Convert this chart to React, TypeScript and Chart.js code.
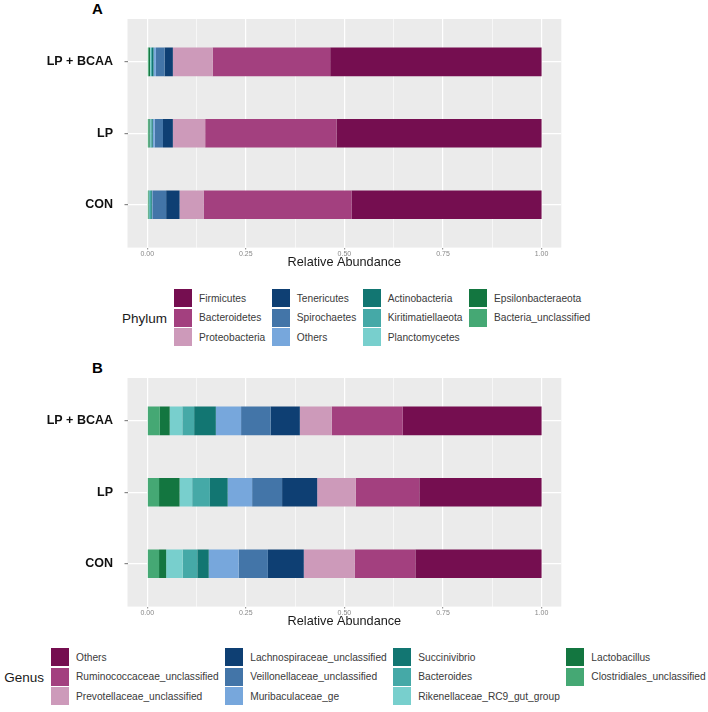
import React, { useEffect, useRef } from 'react';
import { Chart, registerables } from 'chart.js';
Chart.register(...registerables);

// ---------- data ----------
const groups = ['CON', 'LP', 'LP + BCAA'];
const xTickValues = [0, 0.125, 0.25, 0.375, 0.5, 0.625, 0.75, 0.875, 1];
const axisTitle = 'Relative Abundance';

// Phylum relative abundance, values for [CON, LP, LP + BCAA]
const firmicutes = [0.482, 0.520, 0.536];
const bacteroidetes = [0.375, 0.333, 0.298];
const proteobacteria = [0.061, 0.082, 0.101];
const tenericutes = [0.034, 0.025, 0.021];
const spirochaetes = [0.035, 0.021, 0.022];
const phylumOthers = [0.001, 0.005, 0.006];
const actinobacteria = [0.002, 0.003, 0.004];
const kiritimatiellaeota = [0.005, 0.003, 0.003];
const planctomycetes = [0.001, 0.002, 0.002];
const epsilonbacteraeota = [0.001, 0.002, 0.003];
const bacteriaUnclassified = [0.003, 0.004, 0.004];

// Genus relative abundance, values for [CON, LP, LP + BCAA]
const genusOthers = [0.320, 0.310, 0.352];
const ruminococcaceae = [0.154, 0.161, 0.180];
const prevotellaceae = [0.129, 0.098, 0.081];
const lachnospiraceae = [0.091, 0.089, 0.074];
const veillonellaceae = [0.074, 0.076, 0.075];
const muribaculaceae = [0.076, 0.062, 0.064];
const succinivibrio = [0.029, 0.045, 0.055];
const bacteroides = [0.037, 0.045, 0.030];
const rikenellaceae = [0.042, 0.032, 0.032];
const lactobacillus = [0.018, 0.052, 0.025];
const clostridiales = [0.030, 0.030, 0.032];

// palette in legend order
const palette = ['#750E50', '#A3407F', '#CD9ABA', '#0E3F73', '#4375A8', '#77A7DC', '#127672', '#45A9A7', '#78CFCD', '#137640', '#45A874'];

// legend order (column-major, 3 rows)
const phylumSeries = [
  { name: 'Firmicutes', values: firmicutes },
  { name: 'Bacteroidetes', values: bacteroidetes },
  { name: 'Proteobacteria', values: proteobacteria },
  { name: 'Tenericutes', values: tenericutes },
  { name: 'Spirochaetes', values: spirochaetes },
  { name: 'Others', values: phylumOthers },
  { name: 'Actinobacteria', values: actinobacteria },
  { name: 'Kiritimatiellaeota', values: kiritimatiellaeota },
  { name: 'Planctomycetes', values: planctomycetes },
  { name: 'Epsilonbacteraeota', values: epsilonbacteraeota },
  { name: 'Bacteria_unclassified', values: bacteriaUnclassified },
];

const genusSeries = [
  { name: 'Others', values: genusOthers },
  { name: 'Ruminococcaceae_unclassified', values: ruminococcaceae },
  { name: 'Prevotellaceae_unclassified', values: prevotellaceae },
  { name: 'Lachnospiraceae_unclassified', values: lachnospiraceae },
  { name: 'Veillonellaceae_unclassified', values: veillonellaceae },
  { name: 'Muribaculaceae_ge', values: muribaculaceae },
  { name: 'Succinivibrio', values: succinivibrio },
  { name: 'Bacteroides', values: bacteroides },
  { name: 'Rikenellaceae_RC9_gut_group', values: rikenellaceae },
  { name: 'Lactobacillus', values: lactobacillus },
  { name: 'Clostridiales_unclassified', values: clostridiales },
];

// ---------- layout ----------
const W = 708;
const H = 270;
const FONT = "'Liberation Sans', Arial, sans-serif";

const isMajor = (v: number) => Math.abs(v * 4 - Math.round(v * 4)) < 1e-6;

const panelBg = {
  id: 'panelBg',
  beforeDraw(chart: any) {
    const { ctx, chartArea } = chart;
    if (!chartArea) return;
    ctx.save();
    ctx.fillStyle = '#EBEBEB';
    ctx.fillRect(chartArea.left, chartArea.top, chartArea.right - chartArea.left, chartArea.bottom - chartArea.top);
    ctx.restore();
  },
};

function Panel({ letter, top, series, legendTitle }: { letter: string; top: number; series: { name: string; values: number[] }[]; legendTitle: string }) {
  const ref = useRef<HTMLCanvasElement | null>(null);
  useEffect(() => {
    if (!ref.current) return;
    const stackOrder = series.map((s, i) => ({ ...s, color: palette[i] })).reverse();
    const chart = new Chart(ref.current, {
      type: 'bar',
      data: {
        datasets: stackOrder.map((s) => ({
          label: s.name,
          data: s.values.map((v, gi) => ({ x: v, y: gi + 1 })),
          backgroundColor: s.color,
          borderWidth: 0,
          barPercentage: 0.4,
          categoryPercentage: 1,
        })),
      },
      options: {
        indexAxis: 'y',
        responsive: false,
        animation: false,
        devicePixelRatio: 1,
        layout: { padding: { top: 13.3, right: 146.7, left: 0, bottom: 0 } },
        plugins: { legend: { display: false }, tooltip: { enabled: false }, title: { display: false } },
        scales: {
          x: {
            type: 'linear',
            stacked: true,
            min: -0.05,
            max: 1.05,
            offset: false,
            afterBuildTicks: (scale: any) => {
              scale.ticks = xTickValues.map((v) => ({ value: v }));
            },
            afterFit: (scale: any) => {
              scale.height = 22.4;
            },
            border: { display: false },
            grid: {
              offset: false,
              color: '#FFFFFF',
              lineWidth: (ctx: any) => (ctx.tick && isMajor(ctx.tick.value) ? 1.2 : 0.6),
              tickColor: (ctx: any) => (ctx.tick && isMajor(ctx.tick.value) ? '#999999' : 'rgba(0,0,0,0)'),
              tickLength: 2,
              drawTicks: true,
            },
            ticks: {
              autoSkip: false,
              maxRotation: 0,
              padding: 0,
              color: '#888888',
              font: { family: FONT, size: 7 },
              callback: (v: any) => (isMajor(Number(v)) ? Number(v).toFixed(2) : ''),
            },
            title: {
              display: true,
              text: axisTitle,
              color: '#1A1A1A',
              font: { family: FONT, size: 12.7 },
              padding: 0,
            },
          },
          y: {
            type: 'linear',
            stacked: true,
            min: 0.4,
            max: 3.6,
            offset: false,
            bounds: 'data',
            afterBuildTicks: (scale: any) => {
              scale.ticks = groups.map((_, i) => ({ value: i + 1 }));
            },
            afterFit: (scale: any) => {
              scale.width = 127.5;
            },
            border: { display: false },
            grid: {
              offset: false,
              color: '#FFFFFF',
              lineWidth: 1.2,
              tickColor: '#888888',
              tickLength: 3,
              drawTicks: true,
            },
            ticks: {
              autoSkip: false,
              padding: 11.5,
              color: '#111111',
              font: { family: FONT, size: 12.5, weight: 'bold' },
              callback: (v: any) => groups[Number(v) - 1] ?? '',
            },
          },
        },
      },
      plugins: [panelBg],
    } as any);
    return () => chart.destroy();
  }, [series]);

  const cols: { name: string; color: string }[][] = [];
  series.forEach((s, i) => {
    const c = Math.floor(i / 3);
    if (!cols[c]) cols[c] = [];
    cols[c].push({ name: s.name, color: palette[i] });
  });

  const legendLeft = letter === 'A' ? 174 : 51;

  return (
    <>
      <div
        style={{
          position: 'absolute',
          left: 92,
          top: top + 1.3,
          fontFamily: FONT,
          fontWeight: 'bold',
          fontSize: 15,
          lineHeight: '15px',
          color: '#000',
        }}
      >
        {letter}
      </div>
      <canvas ref={ref} width={W} height={H} style={{ position: 'absolute', left: 0, top, width: W, height: H, display: 'block' }} />
      <div
        style={{
          position: 'absolute',
          top: top + 288.25,
          left: legendLeft,
          display: 'flex',
          alignItems: 'center',
          fontFamily: FONT,
        }}
      >
        <div
          style={{
            position: 'absolute',
            right: '100%',
            marginRight: 7,
            fontSize: 13.5,
            color: '#1A1A1A',
            whiteSpace: 'nowrap',
            top: '50%',
            transform: 'translateY(-50%)',
          }}
        >
          {legendTitle}
        </div>
        <div style={{ display: 'flex', gap: 6.5 }}>
          {cols.map((col, ci) => (
            <div key={ci} style={{ display: 'flex', flexDirection: 'column' }}>
              {col.map((it) => (
                <div key={it.name} style={{ display: 'flex', alignItems: 'center', height: 19.5 }}>
                  <div style={{ width: 18, height: 18, background: it.color, flex: 'none' }} />
                  <div style={{ marginLeft: 7, fontSize: 10.2, color: '#3A3A3A', whiteSpace: 'nowrap' }}>{it.name}</div>
                </div>
              ))}
            </div>
          ))}
        </div>
      </div>
    </>
  );
}

export default function App() {
  return (
    <div style={{ position: 'absolute', left: 0, top: 0, width: W, height: 712, background: '#FFFFFF', overflow: 'hidden' }}>
      <Panel letter="A" top={0} series={phylumSeries} legendTitle="Phylum" />
      <Panel letter="B" top={359} series={genusSeries} legendTitle="Genus" />
    </div>
  );
}
